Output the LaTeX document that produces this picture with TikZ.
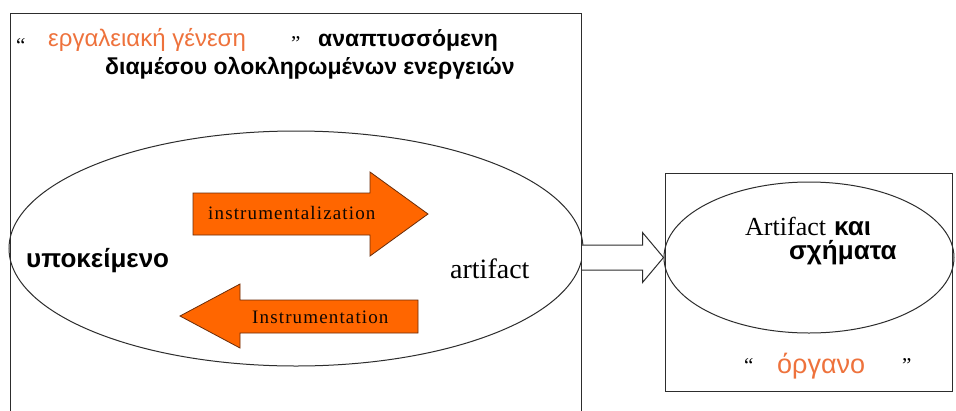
\documentclass[tikz,border=0pt]{standalone}
\usepackage{fontspec}
\setmainfont{Liberation Serif}
\newfontfamily\grk{Liberation Sans}
\usetikzlibrary{shapes.geometric,calc}

\definecolor{arrowfill}{RGB}{255,102,0}
\definecolor{arrowline}{RGB}{105,45,10}
\definecolor{tagorange}{RGB}{238,114,60}
\definecolor{frame}{RGB}{45,45,45}

\begin{document}
\begin{tikzpicture}[x=1pt,y=-1pt,
  frame/.style={draw=frame, line width=1pt},
  bigarrow/.style={fill=arrowfill, draw=arrowline, line width=0.8pt, line join=miter},
  hollow/.style={fill=white, draw=frame, line width=1pt},
  txt/.style={inner sep=0pt, anchor=base west},
  greekbold/.style={txt, font=\grk\bfseries\fontsize{23}{27}\selectfont},
  greekbig/.style={txt, font=\grk\bfseries\fontsize{26}{30}\selectfont},
  tag/.style={txt, text=tagorange, font=\grk\fontsize{24}{28}\selectfont},
  bigtag/.style={txt, text=tagorange, font=\grk\fontsize{27}{31}\selectfont},
  quote/.style={txt, font=\fontsize{21}{24}\selectfont},
  arrowtext/.style={txt, text=black!85!arrowline, font=\addfontfeature{LetterSpace=6}\fontsize{19}{22}\selectfont},
  serifbig/.style={txt, font=\fontsize{28}{32}\selectfont},
]
\useasboundingbox (0,0) rectangle (956,410);
\fill[white] (0,0) rectangle (956,410);

% frames and ellipses
\node[frame, minimum width=571pt, minimum height=410pt, anchor=north west, inner sep=0pt] (outer) at (10,13) {};
\node[frame, ellipse, minimum width=574pt, minimum height=235pt, inner sep=0pt] (lell) at (296,248.5) {};
\node[frame, minimum width=287pt, minimum height=218pt, anchor=north west, inner sep=0pt] (inner) at (665,173) {};
\node[frame, ellipse, minimum width=290pt, minimum height=151pt, inner sep=0pt] (rell) at (809,257.5) {};

% heading
\node[quote] (q1) at (16,52) {“};
\node[tag] (gen) at (48,46) {εργαλειακή γένεση};
\node[quote] (q2) at (291,50) {”};
\node[greekbold] (dev) at (318,46) {αναπτυσσόμενη};
\node[greekbold] (via) at (105,74) {διαμέσου ολοκληρωμένων ενεργειών};

% orange arrows
\draw[bigarrow] (193,193) -- (370,193) -- (370,172) -- (428,214) -- (370,256) -- (370,235) -- (193,235) -- cycle;
\node[arrowtext] (instz) at (208,219) {instrumentalization};
\draw[bigarrow] (180,316) -- (240,284) -- (240,300) -- (418,300) -- (418,333) -- (240,333) -- (240,348) -- cycle;
\node[arrowtext] (instn) at (252,323) {Instrumentation};

\node[greekbig] (subj) at (26,267) {υποκείμενο};
\node[serifbig] (art) at (450,278) {artifact};

% hollow arrow from the outer frame to the right ellipse
\coordinate (hs) at (outer.east |- rell.west);
\coordinate (he) at (rell.west);
\draw[hollow] ($(hs)+(0,-12.5)$) -- ($(he)+(-21,-12.5)$) -- ($(he)+(-21,-25)$) -- (he)
  -- ($(he)+(-21,25)$) -- ($(he)+(-21,12.5)$) -- ($(hs)+(0,12.5)$);

% right frame contents
\node[serifbig, font=\fontsize{26}{30}\selectfont] (Art) at (745,235) {Artifact};
\node[greekbig] (kai) at (834,235) {και};
\node[greekbig] (schem) at (789,259) {σχήματα};
\node[quote] (q3) at (744,372) {“};
\node[bigtag] (organo) at (777,373) {όργανο};
\node[quote] (q4) at (902,372) {”};
\end{tikzpicture}
\end{document}
